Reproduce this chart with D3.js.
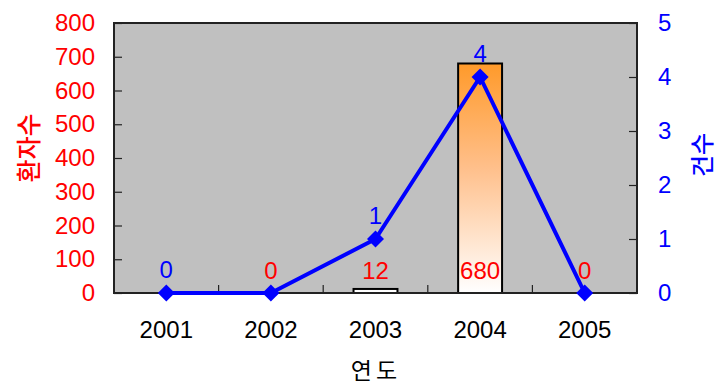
<!DOCTYPE html>
<html>
<head>
<meta charset="utf-8">
<script src="https://cdn.jsdelivr.net/npm/d3@7"></script>
<style>
  body { margin: 0; background: #fff; }
  svg { display: block; }
</style>
</head>
<body>
<svg id="chart" width="720" height="387"></svg>
<script>
const years = ["2001", "2002", "2003", "2004", "2005"];
const patients = [0, 0, 12, 680, 0];      // 환자수 (bars, left axis)
const cases = [0, 0, 1, 4, 0];            // 건수 (line, right axis)
const leftTicks = [0, 100, 200, 300, 400, 500, 600, 700, 800];
const rightTicks = [0, 1, 2, 3, 4, 5];
const barLabelShown = [false, true, true, true, true];
const lineLabelShown = [true, false, true, true, false];

const svg = d3.select("#chart");
const L = 114, R = 637, T = 23, B = 293;
const numFont = "'Liberation Sans', Arial, sans-serif";
const krFont = "'Noto Sans CJK KR', 'Noto Sans', sans-serif";
const FS = 24;

const x = d3.scaleBand().domain(years).range([L, R]).padding(0);
const yL = d3.scaleLinear().domain([0, 800]).range([B, T]);
const yR = d3.scaleLinear().domain([0, 5]).range([B, T]);

// gradient
const defs = svg.append("defs");
const grad = defs.append("linearGradient").attr("id", "barGrad")
  .attr("x1", 0).attr("y1", 0).attr("x2", 0).attr("y2", 1);
grad.append("stop").attr("offset", "0%").attr("stop-color", "#FF9A2A");
grad.append("stop").attr("offset", "45%").attr("stop-color", "#FFBF8A");
grad.append("stop").attr("offset", "100%").attr("stop-color", "#FFFFFF");

// plot background
svg.append("rect").attr("x", L).attr("y", T).attr("width", R - L).attr("height", B - T)
  .attr("fill", "#C0C0C0");

// bars
const bw = x.bandwidth() * 0.42;
svg.append("g").selectAll("rect").data(years).join("rect")
  .attr("x", (d) => x(d) + (x.bandwidth() - bw) / 2)
  .attr("y", (d, i) => yL(patients[i]))
  .attr("width", bw)
  .attr("height", (d, i) => B - yL(patients[i]))
  .attr("fill", (d, i) => patients[i] > 100 ? "url(#barGrad)" : "#FFFFFF")
  .attr("stroke", "#000")
  .attr("stroke-width", 2)
  .style("display", (d, i) => patients[i] > 0 ? null : "none");

// axes (ticks inside)
const axL = svg.append("g").attr("transform", `translate(${L},0)`)
  .call(d3.axisLeft(yL).tickValues(leftTicks).tickSize(-8).tickPadding(19));
const axR = svg.append("g").attr("transform", `translate(${R},0)`)
  .call(d3.axisRight(yR).tickValues(rightTicks).tickFormat(d3.format("d")).tickSize(-8).tickPadding(21));
const axB = svg.append("g").attr("transform", `translate(0,${B})`)
  .call(d3.axisBottom(x).tickSize(0).tickPadding(28));

[axL, axR, axB].forEach(g => {
  g.select(".domain").remove();
  g.selectAll("text").attr("font-family", numFont).attr("font-size", FS);
  g.selectAll("line").attr("stroke", "#222").attr("stroke-width", 1.2);
});
axL.selectAll("text").attr("fill", "#FF0000");
axR.selectAll("text").attr("fill", "#0000FF");
axB.selectAll("text").attr("fill", "#000");

// category boundary ticks (inside, upward)
const bounds = years.slice(1).map(d => x(d));
svg.append("g").selectAll("line").data(bounds).join("line")
  .attr("x1", d => d).attr("x2", d => d)
  .attr("y1", B).attr("y2", B - 8)
  .attr("stroke", "#222").attr("stroke-width", 1.2);

// border
svg.append("rect").attr("x", L).attr("y", T).attr("width", R - L).attr("height", B - T)
  .attr("fill", "none").attr("stroke", "#222").attr("stroke-width", 2);

// line
const cx = (d) => x(d) + x.bandwidth() / 2;
const line = d3.line().x((d, i) => cx(years[i])).y(d => yR(d));
svg.append("path").datum(cases).attr("d", line)
  .attr("fill", "none").attr("stroke", "#0000FF").attr("stroke-width", 4)
  .attr("stroke-linejoin", "round");
svg.append("g").selectAll("path").data(cases).join("path")
  .attr("d", d3.symbol().type(d3.symbolDiamond2).size(185))
  .attr("transform", (d, i) => `translate(${cx(years[i])},${yR(d)})`)
  .attr("fill", "#0000FF");

// bar value labels
svg.append("g").selectAll("text").data(patients).join("text")
  .attr("x", (d, i) => cx(years[i]))
  .attr("y", B - 14)
  .attr("text-anchor", "middle")
  .attr("font-family", numFont).attr("font-size", FS)
  .attr("fill", "#FF0000")
  .style("display", (d, i) => barLabelShown[i] ? null : "none")
  .text(d => d);

// line value labels
svg.append("g").selectAll("text").data(cases).join("text")
  .attr("x", (d, i) => cx(years[i]))
  .attr("y", d => yR(d) - 15)
  .attr("text-anchor", "middle")
  .attr("font-family", numFont).attr("font-size", FS)
  .attr("fill", "#0000FF")
  .style("display", (d, i) => lineLabelShown[i] ? null : "none")
  .text(d => d);

// axis titles
svg.append("text").attr("transform", "translate(38,148) rotate(-90)")
  .attr("text-anchor", "middle").attr("font-family", krFont).attr("font-size", 25)
  .attr("font-weight", 500).attr("fill", "#FF0000").text("환자수");
svg.append("text").attr("transform", "translate(711,155) rotate(-90)")
  .attr("text-anchor", "middle").attr("font-family", krFont).attr("font-size", 24)
  .attr("font-weight", 500).attr("fill", "#0000FF").text("건수");
svg.append("text").attr("x", 376).attr("y", 379)
  .attr("text-anchor", "middle").attr("font-family", krFont).attr("font-size", 23)
  .attr("letter-spacing", 4).attr("fill", "#000").text("연도");
</script>
</body>
</html>
